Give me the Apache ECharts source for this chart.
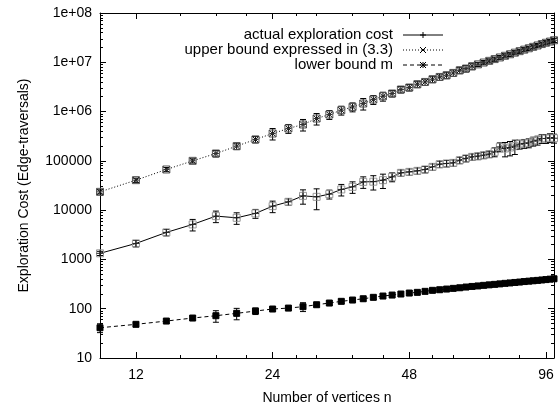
<!DOCTYPE html>
<html><head><meta charset="utf-8">
<script src="https://cdn.jsdelivr.net/npm/echarts@6/dist/echarts.min.js"></script>
<style>html,body{margin:0;padding:0;background:#fff}#c{width:559px;height:408px}</style>
</head><body><div id="c"></div>
<script>
const vertices = [10,12,14,16,18,20,22,24,26,28,30,32,34,36,38,40,42,44,46,48,50,52,54,56,58,60,62,64,66,68,70,72,74,76,78,80,82,84,86,88,90,92,94,96,98,100];

const upperBound = [23500,40600,66800,100000,141000,199000,272000,359000,454000,547000,723000,871000,1066000,1242000,1457000,1755000,2047000,2323000,2800000,3076000,3590000,3990000,4530000,5040000,5460000,6080000,6890000,7460000,8310000,9080000,9880000,10690000,11610000,12530000,13550000,14550000,15670000,16820000,18030000,19240000,20560000,21930000,23440000,24890000,26300000,27990000];
const upperErr = [2300,4000,6500,9800,21000,30000,41000,94000,93000,144000,190000,179000,218000,255000,383000,360000,420000,348000,420000,461000,540000,600000,680000,756000,820000,910000,1030000,1120000,1250000,890000,970000,1050000,1140000,1230000,1330000,1430000,1540000,1650000,1770000,1890000,2010000,2150000,2300000,2440000,2580000,2740000];

const actualCost = [1330,2110,3530,5130,7570,6990,8580,12060,14750,19500,18620,21130,26300,29700,37500,37800,40600,47300,57100,59800,62700,66900,75500,85700,88500,91000,103000,112000,120500,124500,130300,136700,152100,192200,178200,186600,198600,217800,225400,231700,250600,262400,284400,284000,295000,288000];
const actualErr = [130,320,530,1350,1990,1840,1760,3170,2210,6300,8430,4330,6920,7810,9860,12200,13100,9700,8570,8970,9400,10000,11300,12900,13300,13700,15500,16800,18100,18700,19500,20500,31200,39400,57600,60300,64100,44600,46200,47500,51400,53800,58300,58200,60500,59000];

const lowerBound = [41.1,48.2,56.2,64.7,72.1,80.6,89.7,98.6,103,110,120.5,130.4,141.2,150,159.3,170.2,180.8,189.3,198.6,208,214.8,225,236,242.7,250.6,258.8,266,275.2,283,289.7,297.9,304.8,311.9,319,327,333.4,341,347.5,355.6,362.2,368.9,375.8,382.8,389.9,398,405];
const lowerErr = [8.4,4.7,5.5,6.3,19,21,13.5,9.7,10,22.5,11.8,12.8,13.8,14.7,15.6,16.7,17.7,18.6,19.5,20.4,21,22,23,23.8,24.6,25.4,26,27,27.7,28.4,29.2,29.9,30.6,31.3,32,32.7,33.4,34,34.8,35.5,36.2,36.8,37.5,38.2,39,39.7];

const xMajorTicks = [12,24,48,96];
const xMinorTicks = [15,18,21,27,30,36,42,54,60,72,84];
const yTickLabels = ['10','100','1000','10000','100000','1e+06','1e+07','1e+08'];

const seriesNames = ['actual exploration cost','upper bound expressed in (3.3)','lower bound m'];

const FONT = '"Liberation Sans", Arial, Helvetica, sans-serif';

function pairs(vals){ return vertices.map((n,i)=>[n, vals[i]]); }
function errData(vals, errs){ return vertices.map((n,i)=>[n, vals[i]-errs[i], vals[i]+errs[i], vals[i]]); }

function markerShapes(kind, cx, cy){
  const L = (x1,y1,x2,y2,stroke)=>({type:'line', shape:{x1,y1,x2,y2}, style:{stroke:stroke||'#000', lineWidth:1}});
  if (kind === 'upper') {
    return [
      {type:'rect', shape:{x:cx-3.5,y:cy-3.5,width:7,height:7}, style:{fill:'none', stroke:'#555', lineWidth:1}},
      L(cx-3,cy-3,cx+3,cy+3,'#111'), L(cx+3,cy-3,cx-3,cy+3,'#111'), L(cx-3,cy,cx+3,cy,'#333')
    ];
  }
  if (kind === 'actual') {
    return [
      {type:'rect', shape:{x:cx-3.5,y:cy-3.5,width:7,height:7}, style:{fill:'none', stroke:'#999', lineWidth:1}},
      L(cx-3.5,cy,cx+3.5,cy,'#222'), L(cx,cy-3.5,cx,cy+3.5,'#222')
    ];
  }
  return [ {type:'rect', shape:{x:cx-3,y:cy-3,width:6,height:6}, style:{fill:'#000', stroke:'#000', lineWidth:1}} ];
}

function makeErrRender(kind){
  return function(params, api){
    const x = api.value(0), lo = api.value(1), hi = api.value(2), v = api.value(3);
    const pLo = api.coord([x, lo]), pHi = api.coord([x, hi]), p = api.coord([x, v]);
    const w = 3;
    const st = {stroke:'#000', lineWidth:1};
    const ch = [
      {type:'line', shape:{x1:pLo[0],y1:pLo[1],x2:pHi[0],y2:pHi[1]}, style:st},
      {type:'line', shape:{x1:pLo[0]-w,y1:pLo[1],x2:pLo[0]+w,y2:pLo[1]}, style:st},
      {type:'line', shape:{x1:pHi[0]-w,y1:pHi[1],x2:pHi[0]+w,y2:pHi[1]}, style:st}
    ].concat(markerShapes(kind, p[0], p[1]));
    return {type:'group', children:ch};
  };
}

const axisLineStyle = {show:true, lineStyle:{color:'#000', width:1}};
const baseX = {type:'log', logBase:10, min:10, max:100, gridIndex:0, splitLine:{show:false}, minorTick:{show:false}, minorSplitLine:{show:false}};

const chart = echarts.init(document.getElementById('c'), null, {renderer:'canvas'});

// legend drawn gnuplot-style
const legendRows = [
  {name:seriesNames[0], y:35, dash:null, marker:'plus'},
  {name:seriesNames[1], y:50, dash:[1,2], marker:'x'},
  {name:seriesNames[2], y:65, dash:[4,3], marker:'star'}
];
const graphics = [];
legendRows.forEach(r=>{
  graphics.push({type:'text', x:393, y:r.y, style:{text:r.name, textAlign:'right', textVerticalAlign:'middle', font:'15px ' + FONT, fill:'#000'}});
  graphics.push({type:'line', shape:{x1:403,y1:r.y,x2:443,y2:r.y}, style:{stroke:'#000', lineWidth:1, lineDash:r.dash}});
  const cx = 423, cy = r.y, s = 3;
  const segs = [];
  if (r.marker==='plus' || r.marker==='star') { segs.push([cx-s,cy,cx+s,cy],[cx,cy-s,cx,cy+s]); }
  if (r.marker==='x' || r.marker==='star') { segs.push([cx-s,cy-s,cx+s,cy+s],[cx+s,cy-s,cx-s,cy+s]); }
  segs.forEach(sg=>graphics.push({type:'line', shape:{x1:sg[0],y1:sg[1],x2:sg[2],y2:sg[3]}, style:{stroke:'#000', lineWidth:1}}));
});

chart.setOption({
  animation:false,
  backgroundColor:'#fff',
  textStyle:{fontFamily:FONT},
  grid:[{left:100, right:5, top:13, bottom:50, containLabel:false, outerBoundsMode:'none'}],
  xAxis:[
    Object.assign({}, baseX, {
      position:'bottom',
      axisLine:axisLineStyle,
      axisTick:{show:true, inside:true, length:6, customValues:xMajorTicks, lineStyle:{color:'#000'}},
      axisLabel:{show:true, customValues:xMajorTicks, margin:10, fontSize:14, color:'#000', fontFamily:FONT, formatter:v=>String(Math.round(v))},
      name:'Number of vertices n', nameLocation:'middle', nameGap:33,
      nameTextStyle:{fontSize:14, color:'#000', fontFamily:FONT}
    }),
    Object.assign({}, baseX, {
      position:'top',
      axisLine:axisLineStyle,
      axisTick:{show:true, inside:true, length:6, customValues:xMajorTicks, lineStyle:{color:'#000'}},
      axisLabel:{show:false}
    }),
    Object.assign({}, baseX, {
      position:'bottom',
      axisLine:{show:false},
      axisTick:{show:true, inside:true, length:3, customValues:xMinorTicks, lineStyle:{color:'#000'}},
      axisLabel:{show:false}
    }),
    Object.assign({}, baseX, {
      position:'top',
      axisLine:{show:false},
      axisTick:{show:true, inside:true, length:3, customValues:xMinorTicks, lineStyle:{color:'#000'}},
      axisLabel:{show:false}
    })
  ],
  yAxis:[
    {
      type:'log', logBase:10, min:10, max:100000000, position:'left',
      axisLine:axisLineStyle,
      splitLine:{show:false},
      axisTick:{show:true, inside:true, length:6, lineStyle:{color:'#000'}},
      minorTick:{show:true, splitNumber:9, length:3, lineStyle:{color:'#000'}},
      axisLabel:{show:true, margin:8, fontSize:14, color:'#000', fontFamily:FONT,
        formatter:v=>{ const k = Math.round(Math.log10(v)) - 1; return yTickLabels[k] !== undefined ? yTickLabels[k] : ''; }},
      name:'Exploration Cost (Edge-traversals)', nameLocation:'middle', nameGap:69, nameRotate:90,
      nameTextStyle:{fontSize:14, color:'#000', fontFamily:FONT}
    },
    {
      type:'log', logBase:10, min:10, max:100000000, position:'right',
      axisLine:axisLineStyle,
      splitLine:{show:false},
      axisTick:{show:true, inside:true, length:6, lineStyle:{color:'#000'}},
      minorTick:{show:true, splitNumber:9, length:3, lineStyle:{color:'#000'}},
      axisLabel:{show:false}
    }
  ],
  graphic:graphics,
  series:[
    {name:seriesNames[1], type:'line', xAxisIndex:0, yAxisIndex:0, data:pairs(upperBound), symbol:'none', lineStyle:{color:'#000', width:1, type:[1,2]}, z:2},
    {name:seriesNames[0], type:'line', xAxisIndex:0, yAxisIndex:0, data:pairs(actualCost), symbol:'none', lineStyle:{color:'#000', width:1, type:'solid'}, z:2},
    {name:seriesNames[2], type:'line', xAxisIndex:0, yAxisIndex:0, data:pairs(lowerBound), symbol:'none', lineStyle:{color:'#000', width:1, type:[4,3]}, z:2},
    {type:'custom', xAxisIndex:0, yAxisIndex:0, data:errData(upperBound, upperErr), renderItem:makeErrRender('upper'), encode:{x:0, y:[1,2]}, z:3},
    {type:'custom', xAxisIndex:0, yAxisIndex:0, data:errData(actualCost, actualErr), renderItem:makeErrRender('actual'), encode:{x:0, y:[1,2]}, z:3},
    {type:'custom', xAxisIndex:0, yAxisIndex:0, data:errData(lowerBound, lowerErr), renderItem:makeErrRender('lower'), encode:{x:0, y:[1,2]}, z:3}
  ]
});
</script>
</body></html>
